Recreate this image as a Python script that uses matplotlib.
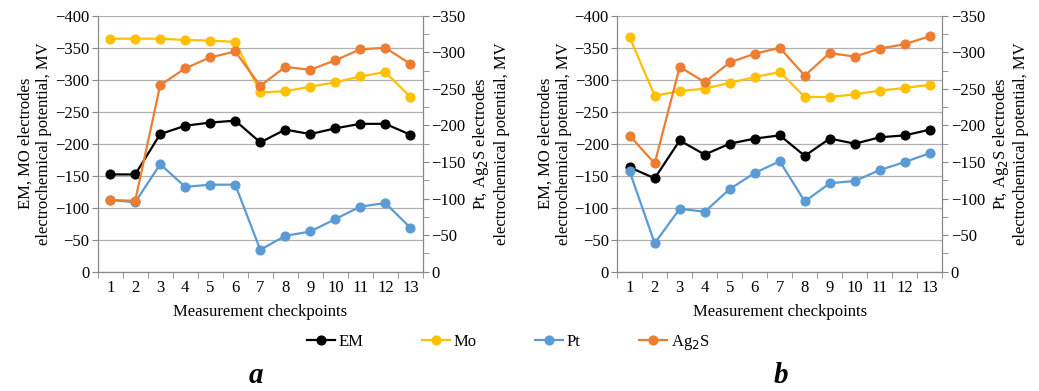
import numpy as np
import matplotlib.pyplot as plt
from matplotlib.ticker import MultipleLocator

plt.rcParams['font.family'] = ['Liberation Serif', 'DejaVu Serif']

# Data (mV)
checkpoints = np.arange(1, 14)

em_a = [-152, -152, -215, -228, -233, -236, -202, -222, -215, -224, -231, -231, -214]
mo_a = [-364, -364, -364, -362, -361, -359, -280, -282, -289, -296, -305, -312, -273]
pt_a = [-98, -95, -147, -116, -119, -119, -30, -49, -55, -72, -89, -94, -60]
ag2s_a = [-98, -97, -255, -278, -293, -301, -254, -280, -276, -289, -304, -306, -284]

em_b = [-163, -146, -205, -183, -200, -208, -213, -181, -208, -200, -210, -213, -222]
mo_b = [-366, -275, -282, -286, -295, -304, -312, -273, -273, -277, -283, -287, -292]
pt_b = [-137, -39, -86, -82, -113, -135, -151, -96, -121, -124, -139, -150, -162]
ag2s_b = [-186, -148, -280, -259, -286, -298, -306, -268, -299, -294, -305, -311, -322]

colors = {'EM': '#000000', 'Mo': '#FFC000', 'Pt': '#5B9BD5', 'Ag2S': '#ED7D31'}
fs = 12

fig = plt.figure(figsize=(10.39, 3.91), dpi=100)


def draw_panel(rect, em, mo, pt, ag2s, letter, letter_x):
    ax = fig.add_axes(rect)
    ax2 = ax.twinx()
    kw = dict(marker='o', markersize=6.3, linewidth=1.6)
    ax.plot(checkpoints, em, color=colors['EM'], label='EM', **kw)
    ax.plot(checkpoints, mo, color=colors['Mo'], label='Mo', **kw)
    ax2.plot(checkpoints, pt, color=colors['Pt'], label='Pt', **kw)
    ax2.plot(checkpoints, ag2s, color=colors['Ag2S'], label='Ag$_2$S', **kw)

    ax.set_ylim(0, -400)
    ax2.set_ylim(0, -350)
    ax.set_xlim(0.5, 13.5)
    ax.yaxis.set_major_locator(MultipleLocator(50))
    ax2.yaxis.set_major_locator(MultipleLocator(50))
    ax2.yaxis.set_minor_locator(MultipleLocator(25))
    ax.set_xticks(checkpoints)
    ax.set_xticks(np.arange(0.5, 14, 1), minor=True)
    ax.tick_params(axis='x', which='major', length=0, labelsize=fs, pad=6)
    ax.tick_params(axis='x', which='minor', length=4, color='#888888')
    ax.tick_params(axis='y', length=4, color='#888888', labelsize=fs, pad=2)
    ax2.tick_params(axis='y', which='both', length=4, color='#888888', labelsize=fs, pad=2)
    ax.grid(axis='y', color='#b0b0b0', linewidth=0.9)
    ax.set_axisbelow(True)
    for a in (ax, ax2):
        a.spines['top'].set_visible(False)
        for side in ('left', 'right', 'bottom'):
            a.spines[side].set_color('#888888')
    ax.set_xlabel('Measurement checkpoints', fontsize=fs, labelpad=6)
    ax.set_ylabel('EM, MO electrodes\nelectrochemical potential, MV', fontsize=fs, labelpad=2)
    ax2.set_ylabel('Pt, Ag$_2$S electrodes\nelectrochemical potential, MV', fontsize=fs, labelpad=4)
    fig.text(letter_x, 0.02, letter, fontsize=21, fontweight='bold', style='italic', ha='center')
    return ax, ax2


ax_a, ax2_a = draw_panel([0.094, 0.305, 0.313, 0.655], em_a, mo_a, pt_a, ag2s_a, 'a', 0.246)
ax_b, ax2_b = draw_panel([0.594, 0.305, 0.313, 0.655], em_b, mo_b, pt_b, ag2s_b, 'b', 0.752)

h1, l1 = ax_a.get_legend_handles_labels()
h2, l2 = ax2_a.get_legend_handles_labels()
fig.legend(h1 + h2, l1 + l2, loc='center', bbox_to_anchor=(0.489, 0.125), ncol=4,
           frameon=False, fontsize=fs, handlelength=1.7, handletextpad=0.2,
           columnspacing=3.5)

fig.savefig('out.png', dpi=100)
